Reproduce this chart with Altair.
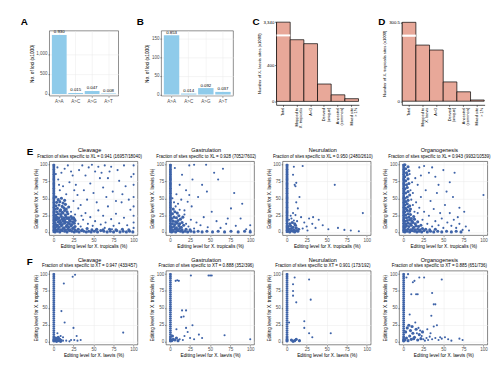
import altair as alt
import pandas as pd

# ---------------- data ----------------
cats_ab = ["A>A", "A>C", "A>G", "A>T"]
a_vals = [1475, 24, 74, 13]
a_labels = ["0.930", "0.015", "0.047", "0.008"]
b_vals = [160, 2.6, 17.3, 7.0]
b_labels = ["0.853", "0.014", "0.092", "0.037"]

c_cats = ["Total", "Mapped to|X. tropicalis", "A>G", "Derived|(unique)", "Ancestral|(common)", "Mixed site|> 1%"]
c_vals = [3340, 685, 641, 193, 73, 30]
d_cats = ["Total", "Mapped to|X. laevis", "A>G", "Derived|(unique)", "Ancestral|(common)", "Mixed site|> 1%"]
d_vals = [300.5, 46.6, 42.5, 16.0, 7.8, 1.0]

stages = ["Cleavage", "Gastrulation", "Neurulation", "Organogenesis"]
e_subs = [
    "Fraction of sites specific to XL = 0.941 (16957/18040)",
    "Fraction of sites specific to XL = 0.928 (7052/7602)",
    "Fraction of sites specific to XL = 0.950 (2480/2610)",
    "Fraction of sites specific to XL = 0.943 (9932/10539)",
]
f_subs = [
    "Fraction of sites specific to XT = 0.947 (433/457)",
    "Fraction of sites specific to XT = 0.888 (352/396)",
    "Fraction of sites specific to XT = 0.901 (173/192)",
    "Fraction of sites specific to XT = 0.885 (651/736)",
]

col_y_e = [0, 2, 3, 5, 7, 8, 10, 12, 13, 15, 17, 18, 20, 22, 24, 25, 27, 29, 30, 32, 34, 36, 37, 39,
           41, 43, 44, 46, 48, 50, 51, 53, 55, 57, 58, 60, 62, 64, 65, 67, 69, 71, 72, 74, 76, 78,
           79, 81, 83, 85, 86, 88, 90, 92, 93, 95, 97, 99, 100]
col_y_f = [0, 1, 2, 3, 5, 7, 10, 13, 16, 19, 22, 25, 28, 31, 34, 37, 40, 43, 46, 49, 52, 55, 58, 61,
           64, 67, 70, 73, 76, 79, 82, 85, 88, 91, 94, 97, 100]

# dense (core) parts of each scatter
e1_core = [(2,0),(5,1),(8,0),(11,2),(14,1),(17,0),(20,2),(23,1),(26,0),(29,1),(32,0),(35,2),(38,1),(41,0),
           (44,1),(47,0),(51,1),(55,0),(59,2),(63,1),(67,0),(71,1),(75,0),(79,2),(83,0),(87,1),(91,0),(95,1),
           (99,0),(3,3),(6,4),(9,3),(12,5),(15,3),(18,4),(21,3),(24,5),(27,3),(31,4),(36,3),(42,5),(48,3),
           (54,4),(62,3),(70,4),(78,3),(86,4),(94,3),
           (2,6),(4,8),(7,7),(10,9),(13,6),(16,8),(19,7),(22,9),(25,6),(27,8),(3,11),(5,10),(8,12),(11,11),
           (14,13),(17,10),(20,12),(23,11),(26,13),(2,14),(6,15),(9,14),(12,16),(15,15),(18,14),(21,16),
           (24,15),(27,17),(3,18),(5,19),(8,17),(11,19),(14,18),(17,20),(20,18),(23,20),(26,19),(2,21),
           (4,22),(7,21),(10,23),(13,21),(16,22),(19,21),(22,23),(25,21),
           (3,25),(6,27),(9,26),(12,28),(15,25),(18,27),(4,30),(8,31),(11,29),(14,32),(17,30),(2,34),(5,35),
           (9,33),(13,36),(16,34),(19,37),(3,39),(7,40),(11,38),(15,41),(4,44),(8,45),(12,43),(6,48),(10,50),
           (3,52),(14,47)]
e1_sparse = [(22,30),(27,26),(31,12),(34,8),(37,18),(40,28),(43,12),(46,22),(49,9),(52,16),(56,32),(59,11),
             (62,24),(65,14),(68,38),(72,19),(75,9),(78,27),(82,13),(85,44),(88,21),(92,10),(96,33),(100,6),
             (100,14),(100,24),(100,38),(100,52),(100,70),(100,86),(100,99),(25,46),(30,55),(34,40),(38,62),
             (42,48),(46,72),(50,58),(54,44),(58,80),(62,66),(66,52),(70,90),(74,60),(78,46),(82,76),(86,56),
             (90,68),(94,48),(97,82),(8,62),(12,68),(16,56),(20,74),(24,84),(6,78),(10,88),(14,94),(18,99),
             (22,90),(28,70),(32,92),(36,99),(40,84),(44,96),(48,100),(52,90),(56,97),(60,88),(64,99),(68,80),
             (72,97),(80,92),(88,99),(5,96),(3,86),(7,70),(26,62),(31,35),(35,24),(53,3),(64,6),(73,4)]

e2_core = [(2,0),(4,1),(7,0),(10,2),(13,1),(16,0),(19,1),(22,0),(26,1),(30,0),(35,1),(40,0),(46,1),(53,0),
           (60,1),(68,0),(76,1),(85,0),(93,1),(100,0),(3,3),(6,4),(9,3),(12,5),(15,3),(20,4),(25,3),
           (2,7),(5,8),(8,6),(11,9),(14,7),(17,10),(3,12),(6,11),(9,13),(12,12),(15,14),(4,16),(7,15),(10,17),
           (13,19),(2,20),(5,22),(8,21),(11,24),(16,22),(3,27),(6,30),(9,28),(4,34)]
e2_sparse = [(7,38),(12,33),(5,44),(10,42),(3,50),(8,56),
             (20,12),(23,8),(26,18),(30,5),(33,14),(38,10),(42,22),(47,7),(52,30),(58,16),(63,6),(70,12),
             (76,35),(82,9),(88,20),(95,4),(100,10),(100,2),(18,32),(22,45),(27,38),(35,52),(40,70),(46,60),
             (55,88),(60,78),(66,94),(72,20),(80,58),(90,42),(24,99),(30,100),(12,70),(15,85),(6,95),(20,62),
             (28,78),(45,100),(14,48),(18,26),(24,55)]

e3_core = [(2,1),(4,0),(6,2),(8,1),(10,0),(12,2),(14,1),(3,4),(6,5),(9,3),(12,6),(15,4),(2,8),(5,9),(8,7),
           (11,10),(4,12),(7,14),(10,12)]
e3_sparse = [(13,16),(3,18),(6,20),(9,17),(5,24),(8,28),(11,25),(14,35),(12,44),
             (16,52),(10,70),(11,68),(12,73),(8,85),(9,97),(20,98),(18,22),(22,14),(25,8),(28,20),(32,12),
             (36,6),(40,18),(45,10),(52,4),(60,70),(64,6),(72,3),(80,2),(90,1),(95,28),(33,22),(20,5),(26,2)]

e4_core = [(2,0),(5,1),(8,0),(11,2),(14,1),(17,0),(20,1),(23,0),(26,2),(30,0),(34,1),(38,0),(43,1),(48,0),
           (54,1),(60,0),(66,1),(72,0),(3,3),(6,4),(9,3),(12,5),(15,3),(18,4),(21,3),(24,5),(28,4),(33,3),
           (40,4),(2,7),(4,9),(7,8),(10,10),(13,7),(16,9),(19,8),(22,10),(3,12),(6,13),(9,12),(12,14),(15,12),
           (18,15),(2,16),(5,17),(8,18),(11,16),(14,19),(4,21),(7,22),(10,20),(13,23),(3,25),(6,27),(9,26),
           (2,30),(5,32),(8,31),(3,35),(6,37),(9,34),(2,40),(5,42),(8,39),(3,45),(6,47),(2,50),(5,52),(8,55),
           (3,58),(6,60),(2,64),(5,66),(4,70),(7,72),(3,76),(6,79),(2,82),(5,85),(4,88),(7,91),(3,94),(6,97),
           (2,100)]
e4_sparse = [(9,62),(10,48),(12,40),(14,30),(11,74),(8,86),(12,58),
             (16,44),(18,28),(20,36),(22,52),(24,18),(26,30),(28,62),(30,12),(32,24),(34,46),(36,8),(38,34),
             (40,16),(42,58),(44,10),(46,28),(48,20),(50,6),(52,40),(55,14),(58,28),(60,9),(63,18),(66,6),
             (70,12),(74,3),(78,8),(82,2),(100,55),(40,82),(32,88),(44,70),(50,92),(58,74),(64,88),(70,36),
             (76,30),(26,98),(20,96),(15,80),(18,70),(22,84),(36,96),(54,60),(62,52),(68,22)]

f1_core = [(2,1),(3,3),(4,0),(5,2),(6,4),(7,1),(8,3),(9,0),(3,5),(6,6)]
f1_sparse = [(10,2),(12,1),(5,12),(9,8),(10,45),(13,86),(14,28),(12,6),(16,1),(20,0),(22,2),(24,96),
             (27,99),(25,20),(26,2),(29,8),(30,1),(34,2),(87,13)]
f2_core = [(2,1),(4,3),(6,2),(8,5),(10,1),(3,8)]
f2_sparse = [(7,90),(9,91),(11,90),(26,98),(48,98),(50,98),(52,98),(15,46),(20,46),(14,36),(17,37),
             (8,18),(20,20),(22,14),(25,5),(30,3),(28,24),(36,10),(40,5),(68,9),(100,3),(12,3),(16,2),(18,8)]
f3_core = [(6,2),(8,0),(10,1),(12,3),(16,1)]
f3_sparse = [(22,30),(22,20),(28,92),(30,62),(12,58),(8,85),(8,75),(8,68),(10,95),(28,12),(32,6),
             (55,12),(3,28)]
f4_core = [(2,2),(4,5),(6,1),(8,8),(10,3),(12,12),(14,6),(16,18),(18,2),(20,10),(22,4),(24,14),(3,14),
           (5,20),(7,24),(9,16),(11,22),(13,4)]
f4_sparse = [(15,28),(17,12),(19,20),(21,16),(23,8),(25,3),(27,1),(29,5),
             (31,2),(33,7),(36,3),(40,5),(44,2),(48,4),(52,6),(56,3),(60,1),(70,4),(74,2),(35,38),(38,22),
             (42,24),(40,55),(38,55),(36,72),(12,88),(14,90),(10,70),(16,70),(18,70),(4,95),(6,100),(20,95),
             (26,95),(48,92),(8,40),(30,18),(34,12),(46,6)]

e_core = [e1_core, e2_core, e3_core, e4_core]
e_sparse = [e1_sparse, e2_sparse, e3_sparse, e4_sparse]
f_core = [f1_core, f2_core, f3_core, f4_core]
f_sparse = [f1_sparse, f2_sparse, f3_sparse, f4_sparse]

# ---------------- style ----------------
FONT = "Liberation Sans"
BLUE_BAR = "#8FCBEA"
SALMON = "#E8A899"
DOT = "#3E63A8"
GRID = "#EBEBEB"
SC_W = 89.5
SC_H = 75


def text_at(s, dx, dy, size, weight="normal", align="left"):
    return alt.Chart(pd.DataFrame({"t": [s]})).mark_text(
        align=align, baseline="alphabetic", fontSize=size, fontWeight=weight, color="black"
    ).encode(x=alt.value(dx), y=alt.value(dy), text="t:N")


def letter(ch, dx, dy):
    return text_at(ch, dx, dy, 10, "bold")


def bw_axis(title, values, fmt=None):
    kw = dict(title=title, values=values, labelFontSize=4.6, labelColor="#4d4d4d",
              titleFontSize=4.8, titleFontWeight="normal", titleColor="black",
              tickSize=1.5, tickColor="#333333", tickWidth=0.5, labelPadding=0.8,
              titlePadding=1.5, domain=False, grid=True, gridColor=GRID, gridWidth=0.5)
    if fmt:
        kw["format"] = fmt
    return alt.Axis(**kw)


def bar_ab(vals, labs, domain, yvals, ch, dx, w):
    df = pd.DataFrame({"cat": cats_ab, "v": vals, "lab": labs})
    x = alt.X("cat:N", sort=cats_ab, scale=alt.Scale(paddingInner=0.1, paddingOuter=0.15),
              axis=alt.Axis(title=None, labelAngle=0, labelFontSize=4.6, labelColor="#4d4d4d",
                            tickSize=1.5, tickColor="#333333", tickWidth=0.5, labelPadding=0.8,
                            domain=False, grid=True, gridColor=GRID, gridWidth=0.5))
    y = alt.Y("v:Q", scale=alt.Scale(domain=domain, nice=False, zero=False),
              axis=bw_axis("No. of loci (x1000)", yvals, ",.0f"))
    base = alt.Chart(df)
    bars = base.mark_bar(color=BLUE_BAR).encode(x=x, y=y, y2=alt.datum(0))
    txt = base.mark_text(baseline="bottom", dy=-0.6, fontSize=4.4, color="black").encode(
        x=x, y=y, text="lab:N")
    return alt.layer(bars, txt, letter(ch, dx, -6)).properties(
        width=w, height=66,
        view=alt.ViewBackground(stroke="#444444", strokeWidth=0.6))


def bar_cd(cats, vals, cap, ticks, brk, domain, ytitle, ch, w):
    disp = [min(v, cap) for v in vals]
    top_label = f"{vals[0]:,}"
    df = pd.DataFrame({"cat": cats, "v": disp})
    x = alt.X("cat:N", sort=cats, scale=alt.Scale(paddingInner=0, paddingOuter=0.03),
              axis=alt.Axis(title=None, labelAngle=270, labelExpr="split(datum.label, '|')",
                            labelFontSize=4.0, labelColor="black", labelLineHeight=4.4,
                            tickSize=1.5, tickColor="black", tickWidth=0.6,
                            domainColor="black", domainWidth=0.7, labelPadding=1, grid=False))
    y = alt.Y("v:Q", scale=alt.Scale(domain=domain, nice=False, zero=False),
              axis=alt.Axis(title=ytitle, values=ticks,
                            labelExpr=f"datum.value >= {cap} ? '{top_label}' : format(datum.value, ',')",
                            labelFontSize=4.4, labelColor="black", titleFontSize=4.2,
                            titleFontWeight="normal", titleColor="black", tickSize=1.5,
                            tickColor="black", tickWidth=0.6, domainColor="black", domainWidth=0.7,
                            labelPadding=0.8, titlePadding=2, grid=False))
    bars = alt.Chart(df).mark_bar(fill=SALMON, stroke="black", strokeWidth=0.7).encode(
        x=x, y=y, y2=alt.datum(0))
    bdf = pd.DataFrame({"cat": [cats[0]], "lo": [brk[0]], "hi": [brk[1]]})
    brk_layer = alt.Chart(bdf).mark_bar(color="white").encode(
        x=alt.X("cat:N", sort=cats), y="lo:Q", y2="hi:Q")
    return alt.layer(bars, brk_layer, letter(ch, -24, 3.3)).properties(
        width=w, height=84.3, view=alt.ViewBackground(stroke="transparent"))


def scatter(core, sparse, coly, title, sub, xt, yt, let=None):
    xs = [p[0] for p in core] + [p[0] for p in sparse] + [0] * len(coly) + [1] * len(coly)
    ys = [p[1] for p in core] + [p[1] for p in sparse] + coly + coly
    grp = ["core"] * len(core) + ["sparse"] * (len(sparse) + 2 * len(coly))
    df = pd.DataFrame({"x": xs, "y": ys, "g": grp})
    layer = alt.Chart(df).mark_circle(color=DOT, opacity=1).encode(
        x=alt.X("x:Q", scale=alt.Scale(domain=[-5, 105], nice=False, zero=False),
                axis=bw_axis(xt, [0, 25, 50, 75, 100])),
        y=alt.Y("y:Q", scale=alt.Scale(domain=[-5, 105], nice=False, zero=False),
                axis=bw_axis(yt, [0, 25, 50, 75, 100])),
        size=alt.Size("g:N", scale=alt.Scale(domain=["core", "sparse"], range=[10, 4.5]), legend=None))
    cx = SC_W / 2 - 4
    layers = [layer,
              text_at(title, cx, -9, 5.6, align="center"),
              text_at(sub, cx, -3.4, 4.5, align="center")]
    if let:
        layers.append(letter(let, -23, -6))
    return alt.layer(*layers).properties(
        width=SC_W, height=SC_H,
        view=alt.ViewBackground(stroke="#333333", strokeWidth=0.6))


A = bar_ab(a_vals, a_labels, [-45, 1580], [0, 500, 1000], "A", -29, 70)
B = bar_ab(b_vals, b_labels, [-3.5, 172], [0, 50, 100, 150], "B", -25, 73)
C = bar_cd(c_cats, c_vals, 880, [0, 200, 400, 600, 880], (722, 744), [-38, 885],
           "Number of X. laevis sites (x1000)", "C", 84)
D = bar_cd(d_cats, d_vals, 65.5, [0, 10, 20, 30, 40, 50, 65.5], (53.5, 55.3), [-3, 66],
           "Number of X. tropicalis sites (x1000)", "D", 84)

row1 = alt.hconcat(A, B, C, D, spacing=43.5, bounds="flush", center=True)

rowE = alt.hconcat(*[
    scatter(e_core[i], e_sparse[i], col_y_e, stages[i], e_subs[i],
            "Editing level for X. tropicalis (%)", "Editing level for X. laevis (%)",
            "E" if i == 0 else None)
    for i in range(4)], spacing=28.3, bounds="flush")

rowF = alt.hconcat(*[
    scatter(f_core[i], f_sparse[i], col_y_f, stages[i], f_subs[i],
            "Editing level for X. laevis (%)", "Editing level for X. tropicalis (%)",
            "F" if i == 0 else None)
    for i in range(4)], spacing=28.3, bounds="flush")

rowsEF = alt.vconcat(rowE, rowF, spacing=7)

chart = alt.vconcat(row1, rowsEF, spacing=18).properties(
    padding={"left": 12, "top": 6, "right": 0, "bottom": 2}
).configure(font=FONT).configure_view(stroke="transparent")

chart.save("out.html", embed_options={"renderer": "svg", "actions": False})
